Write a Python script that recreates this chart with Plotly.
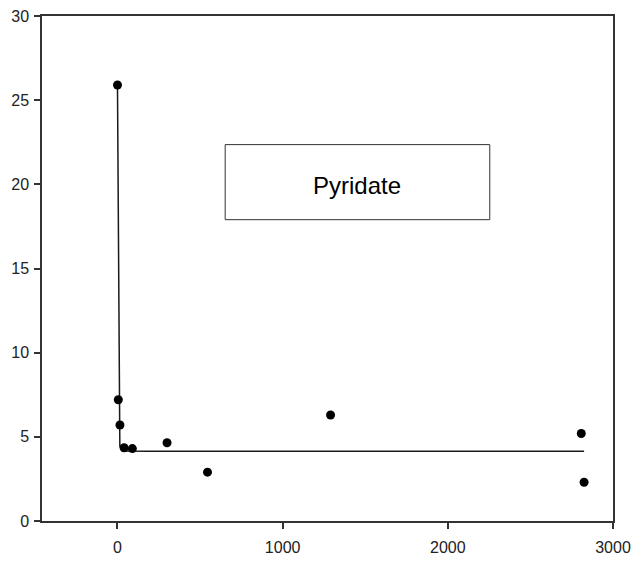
import numpy as np
import plotly.graph_objects as go

# Observed values
conc = [0, 5, 15, 40, 90, 300, 545, 1290, 2808, 2825]
value = [25.9, 7.2, 5.7, 4.35, 4.3, 4.65, 2.9, 6.3, 5.2, 2.3]

# Fitted exponential decay: y = y0 + a * exp(-k * x)
fit_y0 = 4.15
fit_a = 21.75
fit_k = 0.3
fit_x = np.linspace(0, 2825, 200)
fit_y = fit_y0 + fit_a * np.exp(-fit_k * fit_x)

x_ticks = [0, 1000, 2000, 3000]
y_ticks = [0, 5, 10, 15, 20, 25, 30]
label = "Pyridate"

tick_font = dict(family="Liberation Sans, Arial", size=16, color="#222")

fig = go.Figure()
fig.add_trace(go.Scatter(x=fit_x, y=fit_y, mode="lines",
                         line=dict(color="#1a1a1a", width=1.5), hoverinfo="skip"))
fig.add_trace(go.Scatter(x=conc, y=value, mode="markers",
                         marker=dict(color="black", size=9, symbol="circle")))

# Label box
fig.add_shape(type="rect", xref="x", yref="y", x0=652, x1=2254, y0=17.9, y1=22.36,
              line=dict(color="#333", width=1), fillcolor="white", layer="above")
fig.add_annotation(x=(652 + 2254) / 2, y=(17.9 + 22.36) / 2, xref="x", yref="y",
                   text=label, showarrow=False, yshift=-3,
                   font=dict(family="Liberation Sans, Arial", size=24, color="black"))

axis_common = dict(showgrid=False, zeroline=False, showline=True, mirror=True,
                   linecolor="#333", linewidth=1.5, ticks="outside", ticklen=6,
                   tickcolor="#333", tickwidth=1.5, tickfont=tick_font,
                   automargin=False)

fig.update_xaxes(range=[-457, 3000], tickvals=x_ticks, ticklabelstandoff=5, **axis_common)
fig.update_yaxes(range=[0, 30], tickvals=y_ticks, ticklabelstandoff=2, **axis_common)

fig.update_layout(width=631, height=567, showlegend=False,
                  margin=dict(l=42, r=18, t=16, b=46),
                  plot_bgcolor="white", paper_bgcolor="white")

fig.write_html("out.html")
